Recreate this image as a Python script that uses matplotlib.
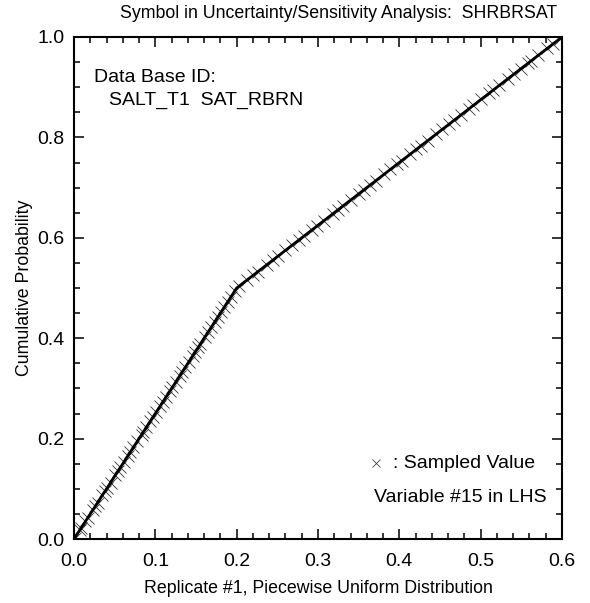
import numpy as np
import matplotlib
matplotlib.use("Agg")
import matplotlib.pyplot as plt
from matplotlib.ticker import MultipleLocator, FormatStrFormatter

# Piecewise uniform CDF breakpoints
cdf_x = [0.0, 0.2, 0.6]
cdf_p = [0.0, 0.5, 1.0]

# LHS sampled values (replicate #1)
samples = [
    0.001, 0.007, 0.009, 0.014, 0.017, 0.023, 0.026, 0.029, 0.035, 0.038,
    0.041, 0.045, 0.051, 0.054, 0.057, 0.061, 0.066, 0.069, 0.073, 0.078,
    0.083, 0.085, 0.089, 0.094, 0.097, 0.101, 0.106, 0.109, 0.113, 0.118,
    0.121, 0.125, 0.130, 0.133, 0.137, 0.141, 0.146, 0.149, 0.153, 0.155,
    0.161, 0.165, 0.169, 0.173, 0.177, 0.181, 0.185, 0.189, 0.193, 0.198,
    0.203, 0.213, 0.220, 0.226, 0.237, 0.245, 0.251, 0.260, 0.268, 0.277,
    0.283, 0.293, 0.299, 0.307, 0.318, 0.325, 0.331, 0.340, 0.350, 0.356,
    0.364, 0.371, 0.381, 0.389, 0.397, 0.403, 0.413, 0.421, 0.427, 0.435,
    0.445, 0.453, 0.461, 0.467, 0.476, 0.486, 0.491, 0.501, 0.510, 0.515,
    0.523, 0.533, 0.541, 0.549, 0.558, 0.562, 0.571, 0.582, 0.589, 0.597,
]

plt.rcParams['font.family'] = ['Liberation Sans', 'DejaVu Sans']
FS = 12.8   # title / axis labels
IFS = 14    # in-plot annotation text
TFS = 14    # tick labels

fig = plt.figure(figsize=(5.9, 6.03), dpi=100)
ax = fig.add_axes([74/590, 1-539/603, 488/590, 502/603])

samp_p = np.interp(samples, cdf_x, cdf_p)
ax.plot(cdf_x, cdf_p, color='black', lw=2.0, zorder=3)
ax.plot(samples, samp_p, linestyle='none', marker='x', markersize=8,
        markeredgewidth=0.6, color='#333333', zorder=2)

ax.set_xlim(0, 0.6)
ax.set_ylim(0, 1.0)
ax.xaxis.set_major_locator(MultipleLocator(0.1))
ax.xaxis.set_minor_locator(MultipleLocator(0.02))
ax.yaxis.set_major_locator(MultipleLocator(0.2))
ax.yaxis.set_minor_locator(MultipleLocator(0.05))
ax.xaxis.set_major_formatter(FormatStrFormatter('%.1f'))
ax.yaxis.set_major_formatter(FormatStrFormatter('%.1f'))
ax.tick_params(which='both', direction='in', top=True, right=True, width=1.1,
               labelsize=TFS)
ax.tick_params(which='major', length=7)
ax.tick_params(axis='x', which='major', pad=10)
ax.tick_params(axis='y', which='major', pad=7)
ax.tick_params(which='minor', length=4)
for s in ax.spines.values():
    s.set_linewidth(1.5)

ax.set_xlabel('Replicate #1, Piecewise Uniform Distribution', fontsize=FS, labelpad=7)
ax.set_ylabel('Cumulative Probability', fontsize=FS, labelpad=3)
fig.text(557/590, 1-14/603, 'Symbol in Uncertainty/Sensitivity Analysis:  SHRBRSAT',
         fontsize=FS, ha='right', va='center')

ax.text(0.041, 0.920, 'Data Base ID:', transform=ax.transAxes, fontsize=IFS,
        ha='left', va='center')
ax.text(0.072, 0.874, 'SALT_T1  SAT_RBRN', transform=ax.transAxes, fontsize=IFS,
        ha='left', va='center')

ax.plot([0.619], [0.151], transform=ax.transAxes, linestyle='none', marker='x',
        markersize=6, markeredgewidth=0.6, color='#444444')
ax.text(0.945, 0.151, ': Sampled Value', transform=ax.transAxes, fontsize=IFS,
        ha='right', va='center')
ax.text(0.969, 0.082, 'Variable #15 in LHS', transform=ax.transAxes, fontsize=IFS,
        ha='right', va='center')

fig.savefig('out.png', dpi=100)
